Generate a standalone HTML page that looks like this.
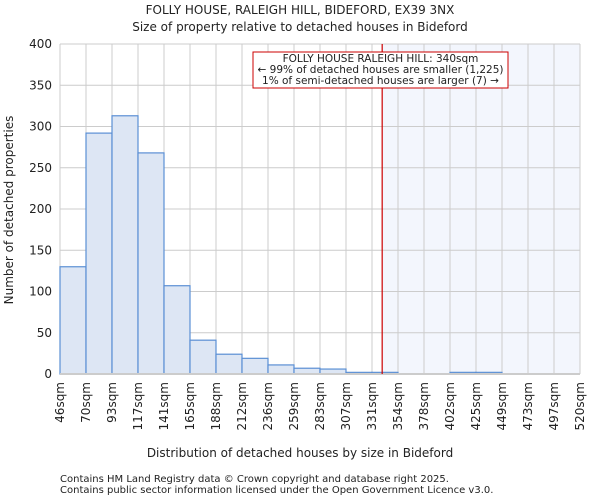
<!DOCTYPE html>
<html><head><meta charset="utf-8"><style>
body{margin:0;background:#fff;font-family:"DejaVu Sans","Liberation Sans",sans-serif}
svg text{font-family:"DejaVu Sans","Liberation Sans",sans-serif;fill:#222}
</style></head><body>
<svg id="c" width="600" height="500">
<text x="300" y="14" text-anchor="middle" font-size="12">FOLLY HOUSE, RALEIGH HILL, BIDEFORD, EX39 3NX</text>
<text x="300" y="31" text-anchor="middle" font-size="12">Size of property relative to detached houses in Bideford</text>
<g id="g"></g>
<text x="300" y="457" text-anchor="middle" font-size="12">Distribution of detached houses by size in Bideford</text>
<text transform="translate(13,210) rotate(-90)" text-anchor="middle" font-size="12">Number of detached properties</text>
<text x="60" y="482" font-size="10">Contains HM Land Registry data © Crown copyright and database right 2025.</text>
<text x="60" y="493" font-size="10">Contains public sector information licensed under the Open Government Licence v3.0.</text>
</svg>
<script>
const binLabels=["46sqm","70sqm","93sqm","117sqm","141sqm","165sqm","188sqm","212sqm","236sqm","259sqm","283sqm","307sqm","331sqm","354sqm","378sqm","402sqm","425sqm","449sqm","473sqm","497sqm","520sqm"];
const binEdges=[46,70,93,117,141,165,188,212,236,259,283,307,331,354,378,402,425,449,473,497,520];
const counts=[130,292,313,268,107,41,24,19,11,7,6,2,2,0,0,2,2,0,0,0];
const yTicks=[0,50,100,150,200,250,300,350,400];
const subjectSize=340;
const X0=60,X1=580,Y0=374,Y1=44,YMAX=400;
const bw=(X1-X0)/counts.length;
function xi(i){return X0+i*bw;}
function xv(v){for(let i=0;i<binEdges.length-1;i++){if(v<=binEdges[i+1])return xi(i)+(v-binEdges[i])/(binEdges[i+1]-binEdges[i])*bw;}return X1;}
function y(v){return Y0-(v/YMAX)*(Y0-Y1);}
const NS="http://www.w3.org/2000/svg",g=document.getElementById('g');
function mk(t,a){const e=document.createElementNS(NS,t);for(const k in a)e.setAttribute(k,a[k]);g.appendChild(e);return e;}
const sx=xv(subjectSize);
let e=mk('rect',{x:sx,y:Y1,width:X1-sx,height:Y0-Y1,fill:'#f3f6fd'});


for(const t of yTicks){e=mk('line',{x1:X0,x2:X1,y1:y(t),y2:y(t),stroke:'#cccccc'});


e=mk('text',{x:X0-8,y:y(t)+4,'text-anchor':'end','font-size':'12'});e.textContent=t;

}
for(let i=0;i<binLabels.length;i++){e=mk('line',{x1:xi(i),x2:xi(i),y1:Y1,y2:Y0,stroke:'#cccccc'});


const tx=xi(i)+4;
e=mk('text',{transform:`translate(${tx},${Y0+8}) rotate(-90)`,'text-anchor':'end','font-size':'12'});e.textContent=binLabels[i];

}
counts.forEach((c,i)=>{if(c<=0)return;e=mk('rect',{x:xi(i),y:y(c),width:bw,height:Y0-y(c),fill:'#dde6f4',stroke:'#5b8fd4','stroke-width':'1.2'});

});
e=mk('line',{x1:X0,x2:X1,y1:Y0,y2:Y0,stroke:'#cccccc','stroke-width':2});


e=mk('line',{x1:sx,x2:sx,y1:Y1,y2:Y0,stroke:'#cc0000','stroke-width':1.2});


e=mk('rect',{x:253,y:52,width:255,height:36,fill:'#fff',stroke:'#cc0000'});


const lines=["FOLLY HOUSE RALEIGH HILL: 340sqm","← 99% of detached houses are smaller (1,225)","1% of semi-detached houses are larger (7) →"];
lines.forEach((l,i)=>{e=mk('text',{x:380.5,y:62+i*11,'text-anchor':'middle','font-size':'10.5'});e.textContent=l;

});
</script>
</body></html>
